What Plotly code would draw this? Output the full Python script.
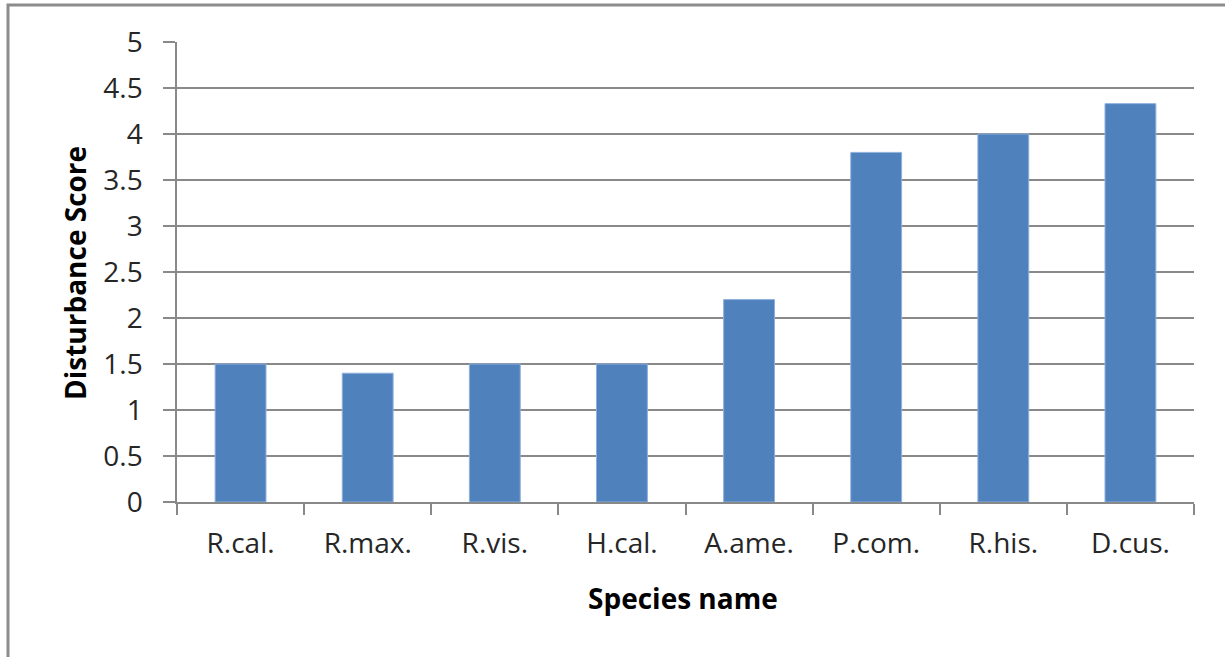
import plotly.graph_objects as go

# Disturbance score per species
species = ["R.cal.", "R.max.", "R.vis.", "H.cal.", "A.ame.", "P.com.", "R.his.", "D.cus."]
scores = [1.5, 1.4, 1.5, 1.5, 2.2, 3.8, 4.0, 4.33]
y_ticks = [0, 0.5, 1, 1.5, 2, 2.5, 3, 3.5, 4, 4.5, 5]

W, H = 1225, 657
L, R, T, B = 177, 31, 42, 155
plot_w = W - L - R
plot_h = H - T - B

grid_col = "#898989"
font_fam = "Open Sans, Lato, sans-serif"
fs = 28

fig = go.Figure(
    go.Bar(
        x=species,
        y=scores,
        width=0.4,
        marker=dict(color="#4F81BD", line=dict(color="#8EB0DC", width=1)),
    )
)

fig.update_layout(
    width=W,
    height=H,
    margin=dict(l=L, r=R, t=T, b=B),
    paper_bgcolor="white",
    plot_bgcolor="white",
    showlegend=False,
    font=dict(family=font_fam, color="#262626", size=fs),
)

fig.update_xaxes(
    type="category",
    showgrid=False,
    showline=True,
    linecolor=grid_col,
    linewidth=1.5,
    ticks="outside",
    tickson="boundaries",
    ticklen=11,
    tickcolor=grid_col,
    tickwidth=1.5,
    ticklabelstandoff=16,
    tickfont=dict(size=fs),
)

fig.update_yaxes(
    range=[0, 5],
    tickvals=y_ticks,
    ticktext=[f"{v:g}" for v in y_ticks],
    showgrid=True,
    gridcolor=grid_col,
    gridwidth=1.5,
    showline=True,
    linecolor=grid_col,
    linewidth=1.5,
    ticks="outside",
    ticklen=12,
    tickcolor=grid_col,
    tickwidth=1.5,
    ticklabelstandoff=15,
    tickfont=dict(size=fs),
    zeroline=False,
)

# Axis titles
fig.add_annotation(
    text="<b>Species name</b>", xref="paper", yref="paper",
    x=(683 - L) / plot_w, y=-(598 - (T + plot_h)) / plot_h, xanchor="center", yanchor="middle",
    showarrow=False, font=dict(size=fs, family=font_fam, color="black"),
)
fig.add_annotation(
    text="<b>Disturbance Score</b>", xref="paper", yref="paper",
    x=-(L - 75) / plot_w, y=1 - (273 - T) / plot_h, xanchor="center", yanchor="middle",
    textangle=-90, showarrow=False, font=dict(size=fs, family=font_fam, color="black"),
)

# Chart frame (left and top edges fall inside the page)
fig.add_shape(
    type="rect", xref="paper", yref="paper",
    x0=-(L - 8) / plot_w, x1=1 + (R + 20) / plot_w,
    y0=-(B + 20) / plot_h, y1=1 + (T - 5) / plot_h,
    line=dict(color="#8C8C8C", width=3), fillcolor="rgba(0,0,0,0)", layer="below",
)

fig.write_html("out.html")
